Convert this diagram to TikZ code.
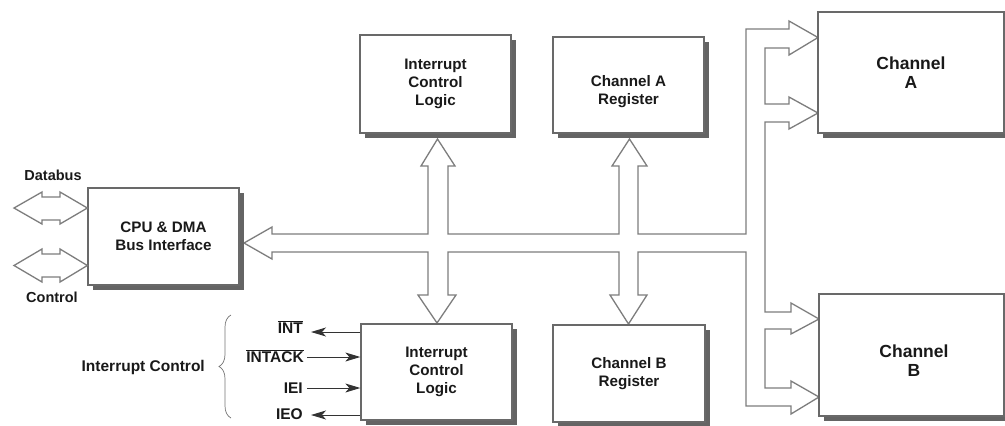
\documentclass[tikz,border=0pt]{standalone}
\usepackage{fontspec}
\setmainfont{Liberation Sans}
\usetikzlibrary{arrows.meta,shadows,decorations.pathreplacing}
\definecolor{boxline}{RGB}{105,105,105}
\definecolor{shadowc}{RGB}{100,100,100}
\definecolor{busline}{RGB}{125,125,125}
\definecolor{txt}{RGB}{25,25,25}
\begin{document}
\begin{tikzpicture}[x=1pt,y=-1pt,
  blk/.style={draw=boxline, line width=1.3pt, fill=white, inner sep=0pt, align=center,
    text=txt, font=\fontsize{15.2}{18}\selectfont\bfseries,
    drop shadow={shadow xshift=5pt, shadow yshift=-5pt, fill=shadowc, opacity=1}},
  bigblk/.style={blk, font=\fontsize{17.5}{19}\selectfont\bfseries},
  bus/.style={draw=busline, line width=1.3pt, fill=white, line join=miter},
  lbl/.style={inner sep=0pt, text=txt, font=\fontsize{14.5}{16}\selectfont\bfseries},
  sigl/.style={draw=black!80, line width=1pt, -{Stealth[length=15pt,width=9pt,inset=4pt]}},
  brc/.style={draw=black!55, line width=0.7pt, decorate, decoration={brace, amplitude=12pt}}
]
\useasboundingbox (0,0) rectangle (1005,426);

% bus structure
\draw[bus] (244,243) -- (272,227) -- (272,234) -- (428,234) -- (428,166) -- (421,166)
  -- (437.5,139) -- (455,166) -- (448,166) -- (448,234) -- (619,234) -- (619,166)
  -- (612,166) -- (629.5,139) -- (647,166) -- (638,166) -- (638,234) -- (746,234)
  -- (746,29) -- (789,29) -- (789,21) -- (818,37.5) -- (789,55) -- (789,48)
  -- (765,48) -- (765,104) -- (789,104) -- (789,97) -- (818,113) -- (789,129)
  -- (789,122) -- (765,122) -- (765,312) -- (791,312) -- (791,303) -- (819,319)
  -- (791,334) -- (791,329) -- (765,329) -- (765,388) -- (791,388) -- (791,381)
  -- (819,397) -- (791,414) -- (791,406) -- (746,406) -- (746,252) -- (638,252)
  -- (638,295) -- (647,295) -- (628.5,324) -- (610,295) -- (619,295) -- (619,252)
  -- (448,252) -- (448,295) -- (456,295) -- (437,323) -- (418,295) -- (428,295)
  -- (428,252) -- (272,252) -- (272,259) -- cycle;

% blocks
\node[blk, minimum width=151pt, minimum height=97pt] (cpu) at (163.5,236.5) {CPU \& DMA\\Bus Interface};
\node[blk, minimum width=151pt, minimum height=98pt] (iclA) at (435.5,84) {Interrupt\\Control\\Logic};
\node[blk, minimum width=151pt, minimum height=96pt] (regA) at (628.5,85) {};
\node[lbl, align=center, font=\fontsize{15.2}{18}\selectfont\bfseries] (regAtext) at (628.5,92) {Channel A\\Register};
\node[bigblk, minimum width=186pt, minimum height=121pt] (chA) at (911,72.5) {Channel\\A};
\node[bigblk, minimum width=185pt, minimum height=122pt] (chB) at (911.5,355) {};
\node[lbl, align=center, font=\fontsize{17.5}{19}\selectfont\bfseries] (chBtext) at (914,361) {Channel\\B};
\node[blk, minimum width=151pt, minimum height=96pt] (iclB) at (436.5,372) {Interrupt\\Control\\Logic};
\node[blk, minimum width=152pt, minimum height=97pt] (regB) at (629,373.5) {Channel B\\Register};

% databus / control double arrows
\draw[bus] (14,208) -- (42,192) -- (42,197) -- (60,197) -- (60,192) -- (cpu.west |- 0,208)
  -- (60,224) -- (60,220) -- (42,220) -- (42,224) -- cycle;
\draw[bus] (14,265.5) -- (42,249) -- (42,254) -- (60,254) -- (60,249) -- (cpu.west |- 0,265.5)
  -- (60,282) -- (60,277) -- (42,277) -- (42,282) -- cycle;
\node[lbl] (databus) at (53,175) {Databus};
\node[lbl] (control) at (52,297) {Control};

% interrupt control signals
\node[lbl, anchor=east, font=\fontsize{15.5}{17}\selectfont\bfseries] (int) at (303,327) {$\overline{\hbox{INT}}$};
\node[lbl, anchor=east, font=\fontsize{15.5}{17}\selectfont\bfseries] (intack) at (304,356) {$\overline{\hbox{INTACK}}$};
\node[lbl, anchor=east, font=\fontsize{15.5}{17}\selectfont\bfseries] (iei) at (303,388) {IEI};
\node[lbl, anchor=east, font=\fontsize{15.5}{17}\selectfont\bfseries] (ieo) at (303,414) {IEO};
\draw[sigl] (iclB.west |- 0,332) -- ([xshift=8pt]int.east |- 0,332);
\draw[sigl] ([xshift=3pt]intack.east |- 0,357) -- (iclB.west |- 0,357);
\draw[sigl] ([xshift=4pt]iei.east |- 0,388) -- (iclB.west |- 0,388);
\draw[sigl] (iclB.west |- 0,415) -- ([xshift=8pt]ieo.east |- 0,415);
\coordinate (brtop) at (231,315);
\coordinate (brbot) at (231,418);
\draw[brc] (brbot) -- (brtop);
\node[lbl, anchor=east, font=\fontsize{15.5}{17}\selectfont\bfseries] (ictl) at (205,367) {Interrupt Control};
\end{tikzpicture}
\end{document}
